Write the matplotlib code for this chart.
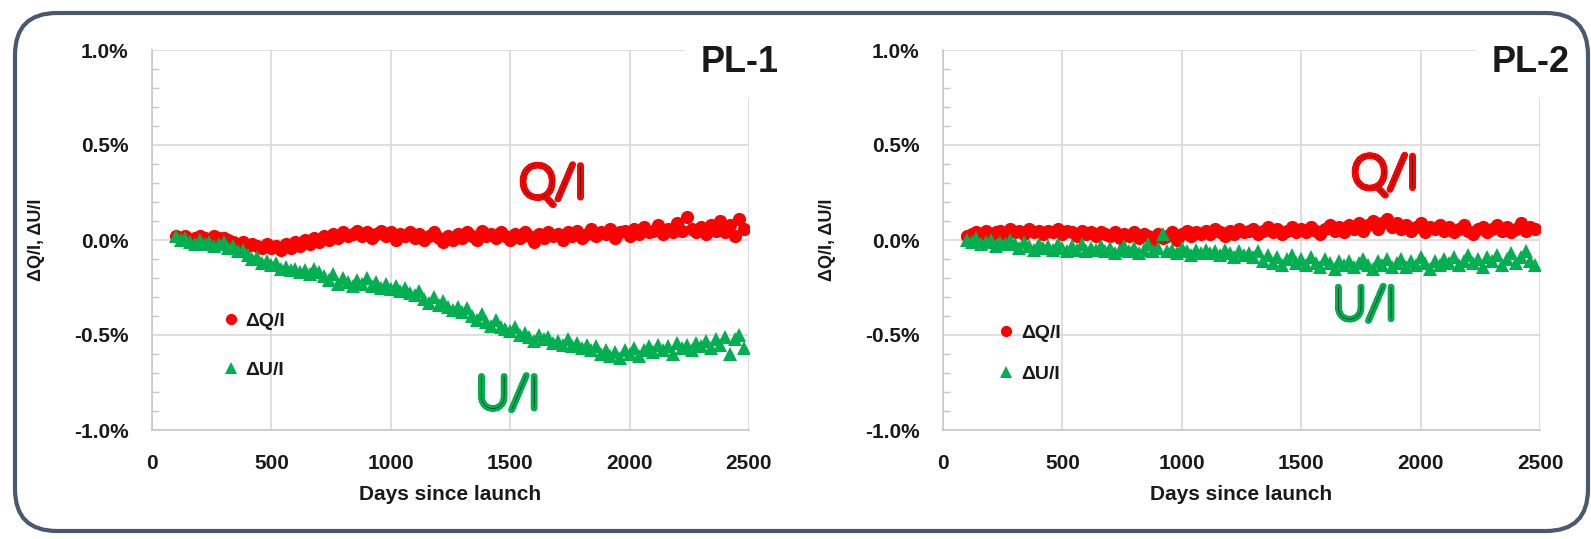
import matplotlib
matplotlib.use("Agg")
import matplotlib.pyplot as plt
import matplotlib.patheffects as pe
from matplotlib.patches import FancyBboxPatch, Rectangle
from matplotlib.ticker import MultipleLocator, FuncFormatter

# ---------------- data (percent) ----------------
days = list(range(100, 2481, 20))

pl1_q = [0.02, 0.01, 0.02, 0.00, 0.01, 0.02, 0.01, 0.00, 0.02, 0.01,
         0.01, 0.00, -0.01, -0.02, -0.01, -0.03, -0.02, -0.03, -0.04, -0.02,
         -0.04, -0.03, -0.05, -0.02, -0.04, -0.01, -0.03, 0.00, -0.02, 0.01,
         -0.01, 0.02, 0.00, 0.03, 0.01, 0.04, 0.02, 0.03, 0.05, 0.02,
         0.04, 0.01, 0.03, 0.05, 0.02, 0.04, 0.00, 0.03, 0.02, 0.04,
         0.01, 0.03, 0.00, 0.02, 0.04, 0.01, -0.01, 0.02, 0.00, 0.03,
         0.01, 0.04, 0.02, 0.00, 0.05, 0.02, 0.03, 0.01, 0.04, 0.02,
         0.00, 0.03, 0.01, 0.04, 0.02, -0.01, 0.03, 0.01, 0.04, 0.02,
         0.03, 0.00, 0.04, 0.02, 0.05, 0.01, 0.03, 0.06, 0.02, 0.04,
         0.03, 0.06, 0.01, 0.04, 0.05, 0.02, 0.06, 0.03, 0.07, 0.04,
         0.05, 0.08, 0.03, 0.06, 0.04, 0.09, 0.05, 0.12, 0.06, 0.04,
         0.07, 0.03, 0.08, 0.05, 0.10, 0.04, 0.08, 0.02, 0.11, 0.06]

pl1_u = [0.02, 0.00, 0.01, -0.01, -0.02, 0.00, -0.02, -0.01, -0.03, -0.02,
         -0.01, -0.04, -0.03, -0.06, -0.05, -0.08, -0.10, -0.09, -0.12, -0.11,
         -0.13, -0.12, -0.15, -0.14, -0.16, -0.15, -0.17, -0.16, -0.18, -0.15,
         -0.17, -0.19, -0.21, -0.18, -0.23, -0.20, -0.22, -0.24, -0.21, -0.23,
         -0.20, -0.24, -0.22, -0.25, -0.23, -0.26, -0.24, -0.27, -0.25, -0.28,
         -0.29, -0.27, -0.31, -0.33, -0.30, -0.34, -0.32, -0.35, -0.37, -0.35,
         -0.38, -0.36, -0.40, -0.42, -0.39, -0.43, -0.45, -0.42, -0.46, -0.47,
         -0.48, -0.46, -0.50, -0.49, -0.51, -0.53, -0.50, -0.52, -0.51, -0.54,
         -0.53, -0.55, -0.52, -0.56, -0.54, -0.57, -0.55, -0.58, -0.56, -0.60,
         -0.58, -0.61, -0.59, -0.62, -0.58, -0.60, -0.57, -0.61, -0.58, -0.56,
         -0.59, -0.55, -0.58, -0.56, -0.60, -0.54, -0.57, -0.55, -0.58, -0.54,
         -0.56, -0.53, -0.57, -0.52, -0.55, -0.51, -0.60, -0.52, -0.50, -0.57]

pl2_q = [0.02, 0.03, 0.04, 0.03, 0.05, 0.02, 0.04, 0.05, 0.03, 0.06,
         0.04, 0.05, 0.03, 0.06, 0.04, 0.05, 0.03, 0.05, 0.04, 0.06,
         0.03, 0.05, 0.04, 0.02, 0.05, 0.03, 0.04, 0.02, 0.04, 0.03,
         0.02, 0.04, 0.01, 0.03, 0.02, 0.04, 0.01, 0.03, 0.02, 0.00,
         0.03, 0.01, 0.02, 0.04, 0.00, 0.03, 0.05, 0.02, 0.04, 0.03,
         0.05, 0.03, 0.06, 0.04, 0.02, 0.05, 0.03, 0.06, 0.04, 0.05,
         0.06, 0.03, 0.05, 0.07, 0.04, 0.06, 0.03, 0.05, 0.07, 0.04,
         0.06, 0.04, 0.07, 0.05, 0.03, 0.06, 0.08, 0.05, 0.07, 0.04,
         0.08, 0.06, 0.09, 0.05, 0.08, 0.10, 0.06, 0.09, 0.11, 0.07,
         0.09, 0.06, 0.08, 0.05, 0.07, 0.09, 0.04, 0.07, 0.06, 0.08,
         0.05, 0.07, 0.04, 0.06, 0.08, 0.05, 0.03, 0.06, 0.07, 0.04,
         0.06, 0.08, 0.05, 0.07, 0.04, 0.06, 0.09, 0.05, 0.07, 0.06]

pl2_u = [0.00, -0.01, 0.01, -0.02, -0.01, 0.00, -0.03, -0.01, -0.02, 0.00,
         -0.02, -0.04, -0.01, -0.03, -0.05, -0.02, -0.04, -0.03, -0.05, -0.02,
         -0.04, -0.06, -0.03, -0.05, -0.02, -0.06, -0.04, -0.05, -0.03, -0.06,
         -0.04, -0.07, -0.05, -0.03, -0.06, -0.04, -0.07, -0.05, -0.02, -0.06,
         -0.04, 0.03, -0.06, -0.05, -0.07, -0.04, -0.06, -0.08, -0.05, -0.07,
         -0.05, -0.07, -0.06, -0.08, -0.05, -0.07, -0.09, -0.06, -0.08, -0.07,
         -0.09, -0.06, -0.11, -0.08, -0.12, -0.09, -0.13, -0.10, -0.08, -0.12,
         -0.10, -0.13, -0.09, -0.12, -0.14, -0.10, -0.12, -0.15, -0.11, -0.13,
         -0.11, -0.14, -0.12, -0.10, -0.13, -0.15, -0.11, -0.13, -0.10, -0.14,
         -0.12, -0.10, -0.14, -0.11, -0.13, -0.09, -0.12, -0.15, -0.11, -0.13,
         -0.10, -0.12, -0.09, -0.13, -0.11, -0.08, -0.12, -0.10, -0.14, -0.09,
         -0.11, -0.08, -0.13, -0.10, -0.07, -0.12, -0.09, -0.06, -0.11, -0.13]

panel_titles = ["PL-1", "PL-2"]
legend_labels = ["ΔQ/I", "ΔU/I"]
x_ticks = [0, 500, 1000, 1500, 2000, 2500]
y_ticks = [-1.0, -0.5, 0.0, 0.5, 1.0]

RED = "#ff0000"
GREEN = "#00b050"
GRID = "#d9d9d9"
TXT = "#1a1a1a"

plt.rcParams["font.family"] = ["Liberation Sans", "DejaVu Sans"]

fig = plt.figure(figsize=(15.91, 5.39), dpi=100)
W, H = 1591.0, 539.0

# outer rounded frame
frame = FancyBboxPatch((0.15, 0.08), 15.73, 5.18,
                       boxstyle="round,pad=0,rounding_size=0.42",
                       transform=fig.dpi_scale_trans, fill=False,
                       edgecolor="#4a5870", linewidth=3.0, zorder=0)
fig.patches.append(frame)

panels = [
    dict(left=152, q=pl1_q, u=pl1_u, title=panel_titles[0],
         qlab=(1679, 0.29), ulab=(1491, -0.82),
         leg=(0.116, 0.222), lspace=1.6),
    dict(left=943, q=pl2_q, u=pl2_u, title=panel_titles[1],
         qlab=(1851, 0.34), ulab=(1767, -0.35),
         leg=(0.090, 0.201), lspace=1.2),
]

for p in panels:
    ax = fig.add_axes([p["left"] / W, (H - 430) / H, 597 / W, 380 / H])
    ax.set_xlim(0, 2500)
    ax.set_ylim(-1.0, 1.0)
    ax.set_xticks(x_ticks)
    ax.set_yticks(y_ticks)
    ax.yaxis.set_minor_locator(MultipleLocator(0.1))
    ax.yaxis.set_major_formatter(FuncFormatter(lambda v, _: f"{v:.1f}%"))
    ax.grid(True, color=GRID, linewidth=1.2, zorder=0)
    ax.set_axisbelow(True)
    for s in ["top", "right"]:
        ax.spines[s].set_visible(False)
    for s in ["left", "bottom"]:
        ax.spines[s].set_color("#c8c8c8")
        ax.spines[s].set_linewidth(1.2)
    ax.tick_params(axis="both", which="major", length=0, pad=17,
                   labelsize=15, labelcolor=TXT)
    ax.tick_params(axis="y", which="minor", direction="in", length=5,
                   color="#c8c8c8", width=1)
    for lab in ax.get_xticklabels() + ax.get_yticklabels():
        lab.set_fontweight("bold")
    ax.set_xlabel("Days since launch", fontsize=15, fontweight="bold",
                  color=TXT, labelpad=9)
    ax.set_ylabel("ΔQ/I, ΔU/I", fontsize=13, fontweight="bold", color=TXT)
    ax.yaxis.set_label_coords(-107 / 597, 0.5)

    ax.plot(days, p["q"], linestyle="none", marker="o", markersize=9.5,
            color=RED, markeredgewidth=0, label=legend_labels[0], zorder=3)
    ax.plot(days, p["u"], linestyle="none", marker="^", markersize=10.5,
            color=GREEN, markeredgewidth=0, label=legend_labels[1], zorder=3)

    leg = ax.legend(loc="center left", bbox_to_anchor=p["leg"],
                    frameon=False, fontsize=14, handlelength=1.0,
                    handletextpad=0.25, labelspacing=p["lspace"],
                    borderpad=0, borderaxespad=0, markerscale=0.85)
    for t in leg.get_texts():
        t.set_fontweight("bold")
        t.set_color(TXT)

    # white patch behind the panel title
    ax.add_patch(Rectangle((0.893, 0.874), 0.2, 0.13, transform=ax.transAxes,
                           facecolor="white", edgecolor="none",
                           clip_on=False, zorder=2))
    ax.text(0.985, 0.968, p["title"], transform=ax.transAxes, ha="center",
            va="center", fontsize=26, fontweight="bold", color=TXT,
            zorder=5, clip_on=False)

    for (xy, txt, col) in [(p["qlab"], "Q/I", RED), (p["ulab"], "U/I", GREEN)]:
        ax.text(xy[0], xy[1], txt, ha="center", va="center",
                fontsize=33, family=["Lato", "Noto Sans", "DejaVu Sans"],
                fontweight=200, color="black", zorder=6,
                path_effects=[pe.withStroke(linewidth=4.5, foreground=col)])

fig.savefig("out.png", dpi=100)
